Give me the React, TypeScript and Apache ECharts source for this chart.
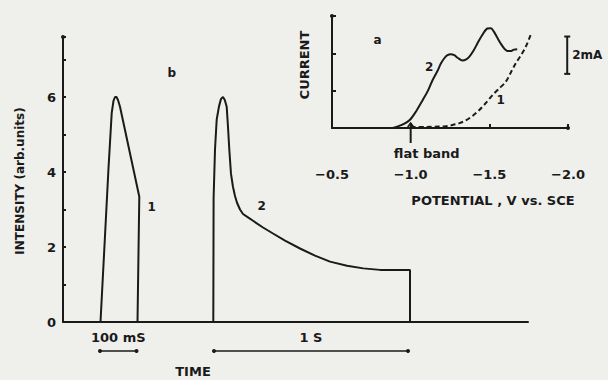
import React, { useEffect, useRef } from "react";
import * as echarts from "echarts";

// ---- Panel b: intensity transients (time in arbitrary units, intensity in arb. units)
const pulse1Time = [37.5, 42, 45.5, 48.7, 50.5, 52, 53.5, 55, 57, 62, 66, 71, 76.3, 74.5];
const pulse1Intensity = [0, 2.3, 4.1, 5.57, 5.9, 6.0, 6.0, 5.92, 5.74, 5.12, 4.62, 4.0, 3.34, 0];

const pulse2Time = [150.3, 150.6, 152, 153.7, 156, 158, 160, 161.8, 163.7, 165, 166.3, 168, 170, 172, 174, 177, 180, 185, 190, 200, 210, 222, 237, 252, 267, 284, 300.3, 317, 330, 347, 347];
const pulse2Intensity = [0, 3.3, 4.6, 5.4, 5.75, 5.95, 6.0, 5.92, 5.74, 5.2, 4.6, 3.95, 3.6, 3.36, 3.18, 3.0, 2.88, 2.79, 2.7, 2.52, 2.36, 2.17, 1.96, 1.77, 1.61, 1.5, 1.43, 1.39, 1.39, 1.39, 0];

const mainYTicks = [0, 2, 4, 6];

// ---- Panel a: current vs potential (V vs. SCE, mA)
const curve2Potential = [-0.886, -0.94, -0.992, -1.035, -1.076, -1.11, -1.139, -1.17, -1.192, -1.215, -1.234, -1.255, -1.277, -1.30, -1.329, -1.35, -1.372, -1.40, -1.424, -1.455, -1.487, -1.51, -1.530, -1.55, -1.572, -1.595, -1.614, -1.635, -1.656, -1.677];
const curve2Current = [0, 0.15, 0.41, 0.9, 1.49, 2.0, 2.56, 3.05, 3.45, 3.75, 3.9, 3.95, 3.9, 3.75, 3.62, 3.66, 3.81, 4.15, 4.53, 4.98, 5.33, 5.35, 5.15, 4.85, 4.53, 4.25, 4.13, 4.12, 4.2, 4.22];

const curve1Potential = [-1.0, -1.1, -1.182, -1.225, -1.266, -1.31, -1.351, -1.395, -1.435, -1.477, -1.519, -1.56, -1.604, -1.635, -1.667, -1.695, -1.720, -1.742, -1.762];
const curve1Current = [0.06, 0.06, 0.08, 0.1, 0.16, 0.26, 0.41, 0.66, 0.95, 1.33, 1.75, 2.1, 2.47, 2.95, 3.45, 3.82, 4.16, 4.55, 4.97];

const insetXTicks = [-0.5, -1.0, -1.5, -2.0];

// annotation anchors in data coordinates
const mainLabels = [
  { text: "b", x: 108.7, y: 6.63 },
  { text: "1", x: 88.7, y: 3.07 },
  { text: "2", x: 198.7, y: 3.09 },
];
const insetLabels = [
  { text: "a", x: -0.789, y: 4.7 },
  { text: "2", x: -1.118, y: 3.27 },
  { text: "1", x: -1.572, y: 1.49 },
];
const timeBars = [
  { label: "100 mS", from: 37, to: 73.5 },
  { label: "1 S", from: 151, to: 345 },
];
const flatBandPotential = -1.0;
const scaleBar = { x: -1.995, from: 2.9, to: 4.9, label: "2mA" };

const INK = "#1a1a1a";
const FONT = "DejaVu Sans";

function zip(a: number[], b: number[]) {
  return a.map((v, i) => [v, b[i]]);
}

export default function App() {
  const ref = useRef<HTMLDivElement>(null);

  useEffect(() => {
    if (!ref.current) return;
    const chart = echarts.init(ref.current, undefined, { renderer: "svg" });
    const txt = { fontFamily: FONT, fontWeight: "bold" as const, color: INK };

    chart.setOption({
      animation: false,
      backgroundColor: "#efefec",
      grid: [
        { left: 63, top: 37, width: 465, height: 285 },
        { left: 332, top: 16, width: 236, height: 112 },
      ],
      xAxis: [
        {
          gridIndex: 0,
          type: "value",
          min: 0,
          max: 465,
          axisLine: { lineStyle: { color: INK, width: 2 } },
          axisTick: { show: false },
          axisLabel: { show: false },
          splitLine: { show: false },
        },
        {
          gridIndex: 1,
          type: "value",
          min: -2.0,
          max: -0.5,
          interval: 0.5,
          inverse: true,
          axisLine: {
            lineStyle: { color: INK, width: 2 },
            symbol: ["none", "circle"],
            symbolSize: [4, 4],
          },
          axisTick: { inside: true, length: 4, lineStyle: { color: INK, width: 2 } },
          axisLabel: {
            ...txt,
            fontSize: 13,
            margin: 40,
            formatter: (v: number) =>
              insetXTicks.some((t) => Math.abs(t - v) < 1e-6) ? v.toFixed(1).replace("-", "\u2212") : "",
          },
          splitLine: { show: false },
        },
      ],
      yAxis: [
        {
          gridIndex: 0,
          type: "value",
          min: 0,
          max: 7.6,
          interval: 1,
          axisLine: {
            lineStyle: { color: INK, width: 2 },
            symbol: ["none", "circle"],
            symbolSize: [4, 4],
          },
          axisTick: { inside: true, length: 3, lineStyle: { color: INK, width: 2 } },
          axisLabel: {
            ...txt,
            fontSize: 13,
            margin: 7,
            formatter: (v: number) => (mainYTicks.includes(v) ? String(v) : ""),
          },
          splitLine: { show: false },
        },
        {
          gridIndex: 1,
          type: "value",
          min: 0,
          max: 6,
          interval: 2,
          axisLine: {
            lineStyle: { color: INK, width: 2 },
            symbol: ["none", "circle"],
            symbolSize: [4, 4],
          },
          axisTick: { inside: true, length: 4, lineStyle: { color: INK, width: 2 } },
          axisLabel: { show: false },
          splitLine: { show: false },
        },
      ],
      series: [
        {
          type: "line",
          xAxisIndex: 0,
          yAxisIndex: 0,
          data: zip(pulse1Time, pulse1Intensity),
          showSymbol: false,
          lineStyle: { color: INK, width: 2 },
        },
        {
          type: "line",
          xAxisIndex: 0,
          yAxisIndex: 0,
          data: zip(pulse2Time, pulse2Intensity),
          showSymbol: false,
          lineStyle: { color: INK, width: 2 },
        },
        {
          type: "line",
          xAxisIndex: 1,
          yAxisIndex: 1,
          data: zip(curve2Potential, curve2Current),
          showSymbol: false,
          smooth: 0.3,
          lineStyle: { color: INK, width: 2 },
        },
        {
          type: "line",
          xAxisIndex: 1,
          yAxisIndex: 1,
          data: zip(curve1Potential, curve1Current),
          showSymbol: false,
          smooth: 0.3,
          lineStyle: { color: INK, width: 2, type: [5, 3] },
        },
      ],
    });

    const p0 = (x: number, y: number) => chart.convertToPixel({ gridIndex: 0 }, [x, y]) as number[];
    const p1 = (x: number, y: number) => chart.convertToPixel({ gridIndex: 1 }, [x, y]) as number[];

    const graphic: any[] = [];
    const addText = (text: string, x: number, y: number, size = 13, rotation = 0, align = "center") =>
      graphic.push({
        type: "text",
        x,
        y,
        rotation,
        style: {
          text,
          fill: INK,
          font: `bold ${size}px "${FONT}"`,
          align,
          verticalAlign: "middle",
        },
      });

    mainLabels.forEach((l) => {
      const [x, y] = p0(l.x, l.y);
      addText(l.text, x, y, 12);
    });
    insetLabels.forEach((l) => {
      const [x, y] = p1(l.x, l.y);
      addText(l.text, x, y, 12);
    });

    // time scale bars
    timeBars.forEach((b) => {
      const [x1] = p0(b.from, 0);
      const [x2] = p0(b.to, 0);
      const yBar = 351;
      graphic.push({
        type: "line",
        shape: { x1, y1: yBar, x2, y2: yBar },
        style: { stroke: INK, lineWidth: 1.6 },
      });
      graphic.push({ type: "circle", shape: { cx: x1, cy: yBar, r: 2 }, style: { fill: INK } });
      graphic.push({ type: "circle", shape: { cx: x2, cy: yBar, r: 2 }, style: { fill: INK } });
      addText(b.label, (x1 + x2) / 2, 337, 13);
    });

    // flat band marker
    {
      const [fx, fy] = p1(flatBandPotential, 0);
      graphic.push({
        type: "line",
        shape: { x1: fx, y1: fy + 15, x2: fx, y2: fy - 5 },
        style: { stroke: INK, lineWidth: 2 },
      });
      graphic.push({
        type: "polyline",
        shape: { points: [[fx - 3, fy - 1], [fx, fy - 5], [fx + 3, fy - 1]] },
        style: { stroke: INK, lineWidth: 1.5, fill: "none" },
      });
      addText("flat band", fx + 16, fy + 25, 13);
    }

    // 2 mA scale bar
    {
      const [sx, sy1] = p1(scaleBar.x, scaleBar.from);
      const [, sy2] = p1(scaleBar.x, scaleBar.to);
      graphic.push({
        type: "line",
        shape: { x1: sx, y1: sy1, x2: sx, y2: sy2 },
        style: { stroke: INK, lineWidth: 2 },
      });
      graphic.push({ type: "line", shape: { x1: sx - 3, y1: sy1, x2: sx + 3, y2: sy1 }, style: { stroke: INK, lineWidth: 2 } });
      graphic.push({ type: "line", shape: { x1: sx - 3, y1: sy2, x2: sx + 3, y2: sy2 }, style: { stroke: INK, lineWidth: 2 } });
      addText(scaleBar.label, sx + 5, (sy1 + sy2) / 2, 12, 0, "left");
    }

    // axis titles
    addText("INTENSITY (arb.units)", 20, 181, 12, Math.PI / 2);
    addText("TIME", 193, 371, 13);
    addText("CURRENT", 304, 65, 13, Math.PI / 2);
    addText("POTENTIAL , V vs. SCE", 493, 200, 13);

    chart.setOption({ graphic });

    return () => chart.dispose();
  }, []);

  return (
    <div
      ref={ref}
      style={{ position: "fixed", left: 0, top: 0, width: 608, height: 380 }}
    />
  );
}
